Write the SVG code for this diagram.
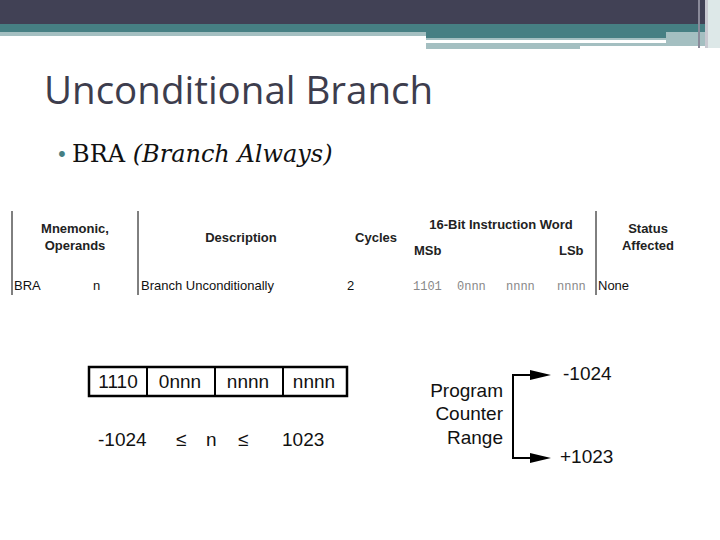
<svg xmlns="http://www.w3.org/2000/svg" width="720" height="540" viewBox="0 0 720 540">
<style>
.h{font-family:"Liberation Sans",Arial,sans-serif;font-size:13px;font-weight:bold;fill:#222}
.c{font-family:"Liberation Sans",Arial,sans-serif;font-size:13px;fill:#111}
.m{font-family:"Liberation Mono",monospace;font-size:12px;fill:#888}
.b{font-family:"Liberation Sans",Arial,sans-serif;font-size:19px;fill:#111}
.ln{stroke:#000;stroke-width:1;fill:none}
.ah{fill:#000}
</style>
<rect width="720" height="540" fill="#fff"/>
<rect x="0" y="0" width="720" height="24" fill="#414155"/>
<rect x="0" y="24" width="720" height="8" fill="#467f83"/>
<rect x="0" y="32" width="426" height="4" fill="#a4bfc1"/>
<rect x="426" y="32" width="290" height="6" fill="#467f83"/>
<rect x="426" y="38" width="240" height="2" fill="#a4bfc1"/>
<rect x="426" y="43" width="240" height="3" fill="#a4bfc1"/>
<rect x="426" y="46" width="154" height="3" fill="#a4bfc1"/>
<rect x="666" y="32" width="42" height="14" fill="#a4bfc1"/>
<rect x="698" y="0" width="2" height="48" fill="#8a8a9a"/>
<rect x="705" y="0" width="3" height="48" fill="#c8c8d0"/>
<rect x="708" y="0" width="12" height="48" fill="#dde8e8"/>
<text x="44" y="104" font-family="'Open Sans','DejaVu Sans',sans-serif" font-size="38.5" fill="#3d3d4d">Unconditional Branch</text>
<text x="56" y="162" font-family="'DejaVu Serif',serif" font-size="20" fill="#467f83">•</text>
<text x="72" y="162" font-family="'DejaVu Serif',serif" font-size="24" fill="#111">BRA <tspan font-style="italic">(Branch Always)</tspan></text>
<g id="table">
<path class="ln" d="M12,211V295M138,211V295M596,211V295"/>
<text class="h" x="75" y="233" text-anchor="middle">Mnemonic,</text>
<text class="h" x="75" y="250" text-anchor="middle">Operands</text>
<text class="h" x="241" y="242" text-anchor="middle">Description</text>
<text class="h" x="376" y="242" text-anchor="middle">Cycles</text>
<text class="h" x="501" y="229" text-anchor="middle">16-Bit Instruction Word</text>
<text class="h" x="414" y="255">MSb</text>
<text class="h" x="559" y="255">LSb</text>
<text class="h" x="648" y="233" text-anchor="middle">Status</text>
<text class="h" x="648" y="250" text-anchor="middle">Affected</text>
<text class="c" x="14" y="290">BRA</text>
<text class="c" x="93" y="290">n</text>
<text class="c" x="141" y="290">Branch Unconditionally</text>
<text class="c" x="347" y="290">2</text>
<text class="m" x="413" y="290">1101</text>
<text class="m" x="457" y="290">0nnn</text>
<text class="m" x="506" y="290">nnnn</text>
<text class="m" x="557" y="290">nnnn</text>
<text class="c" x="598" y="290">None</text>
</g>
<g id="word">
<rect x="89" y="367" width="258" height="29" fill="#fff" stroke="#000" stroke-width="2.5"/>
<path d="M147,367V396M215,367V396M283,367V396" stroke="#000" stroke-width="2"/>
<text class="b" x="118" y="388" text-anchor="middle">1110</text>
<text class="b" x="180" y="388" text-anchor="middle">0nnn</text>
<text class="b" x="248" y="388" text-anchor="middle">nnnn</text>
<text class="b" x="314" y="388" text-anchor="middle">nnnn</text>
</g>
<g id="range-text">
<text class="b" x="98" y="446">-1024</text>
<text class="b" x="176" y="446">≤</text>
<text class="b" x="206" y="446">n</text>
<text class="b" x="238" y="446">≤</text>
<text class="b" x="282" y="446">1023</text>
</g>
<g id="pc">
<text class="b" x="503" y="397" text-anchor="end">Program</text>
<text class="b" x="503" y="420" text-anchor="end">Counter</text>
<text class="b" x="503" y="444" text-anchor="end">Range</text>
<text class="b" x="563" y="380">-1024</text>
<text class="b" x="560" y="463">+1023</text>
</g>
<g id="connectors">
<path d="M513,459V375H532M513,458H532" fill="none" stroke="#000" stroke-width="2"/>
<polygon class="ah" points="530,370 551,375 530,380"/>
<polygon class="ah" points="530,453 551,458 530,463"/>
</g>
</svg>
